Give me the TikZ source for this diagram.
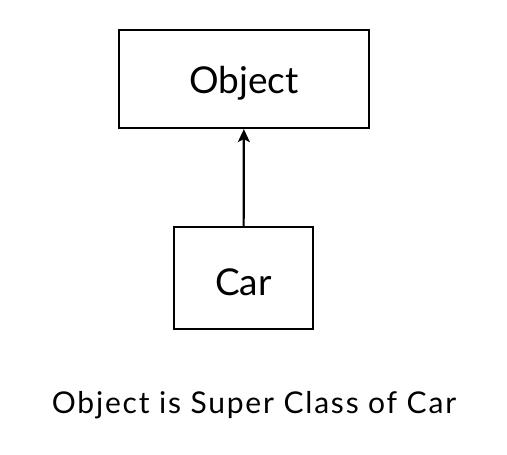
\documentclass[tikz,border=0pt]{standalone}
\usepackage{fontspec}
\setmainfont{Lato}
\newfontfamily\capfont[LetterSpace=6]{Lato}
\usetikzlibrary{arrows.meta,positioning}

\begin{document}
\begin{tikzpicture}[x=1pt,y=-1pt,
    cls/.style={draw=black,line width=2.2pt,inner sep=0pt,text depth=0pt,font=\fontsize{37}{42}\selectfont},
    inherit/.style={-{Stealth[length=13pt,width=12pt,inset=3pt]},line width=2.2pt}]
  \useasboundingbox (0,0) rectangle (507,455);
  % classes
  \node[cls,minimum width=250pt,minimum height=98pt,text height=28pt] (object) at (244,79) {Object};
  \node[cls,minimum width=139pt,minimum height=102pt,text height=34pt] (car) at (243.5,278) {Car};
  \draw[inherit] (car) -- (object);
  % caption
  \node[anchor=base,inner sep=0pt,font=\capfont\fontsize{30}{35}\selectfont] (caption) at (254,413) {Object is Super Class of Car};
\end{tikzpicture}
\end{document}
